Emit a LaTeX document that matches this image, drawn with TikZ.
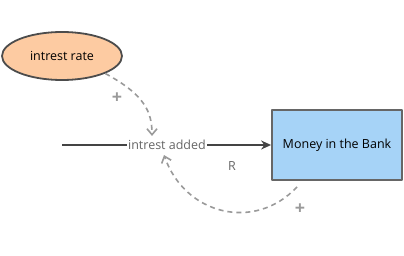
\documentclass[tikz,border=0pt]{standalone}
\usepackage{fontspec}
\setmainfont{Open Sans}
\usetikzlibrary{arrows.meta,positioning,calc}
\definecolor{peach}{HTML}{FDCBA2}
\definecolor{bankblue}{HTML}{A6D3F7}
\definecolor{linkgray}{HTML}{9A9A9A}
\definecolor{flowgray}{HTML}{444444}
\tikzset{
  every picture/.style={line join=round},
  auxvar/.style={ellipse, draw=black!70, line width=1.8pt, fill=peach,
    minimum width=120pt, minimum height=48pt, inner sep=0pt},
  stockbox/.style={rectangle, draw=black!60, line width=1.8pt, fill=bankblue,
    minimum width=130pt, minimum height=70pt},
  flowlabel/.style={fill=white, inner sep=1pt, text=black!60},
  infolink/.style={draw=linkgray, line width=1.6pt, dash pattern=on 5pt off 4pt,
    -{Straight Barb[length=6pt,width=10pt]}},
  polarity/.style={text=linkgray, font=\fontsize{18}{20}\selectfont\bfseries},
}
\usetikzlibrary{shapes.geometric}
\begin{document}
\begin{tikzpicture}[x=1pt, y=-1pt, every node/.style={font=\fontsize{12.5}{15}\selectfont}]
\useasboundingbox (0,0) rectangle (404,256);
% Stock and auxiliary
\node[auxvar] (rate) at (62,56) {intrest rate};
\node[stockbox] (bank) at (337,145) {Money in the Bank};
% Flow
\coordinate (source) at (62,145);
\node[flowlabel] (added) at (167,145) {intrest added};
\draw[flowgray, line width=1.6pt] (source) -- (added);
\draw[flowgray, line width=1.6pt, -{Stealth[length=10pt,width=9pt]}] (added) -- (bank);
\node[text=black!60] (loop) at (232,166) {R};
% Links
\draw[infolink] (rate.-22) .. controls (145,95) and (152,112) .. ($(added.north)+(-15,-3)$);
\draw[infolink] ($(bank.south)+(-40,6)$) .. controls (255,232) and (185,215) .. ($(added.south)+(-3,4)$);
\node[polarity] (plus1) at (117,98) {+};
\node[polarity] (plus2) at (300,209) {+};
\end{tikzpicture}
\end{document}
